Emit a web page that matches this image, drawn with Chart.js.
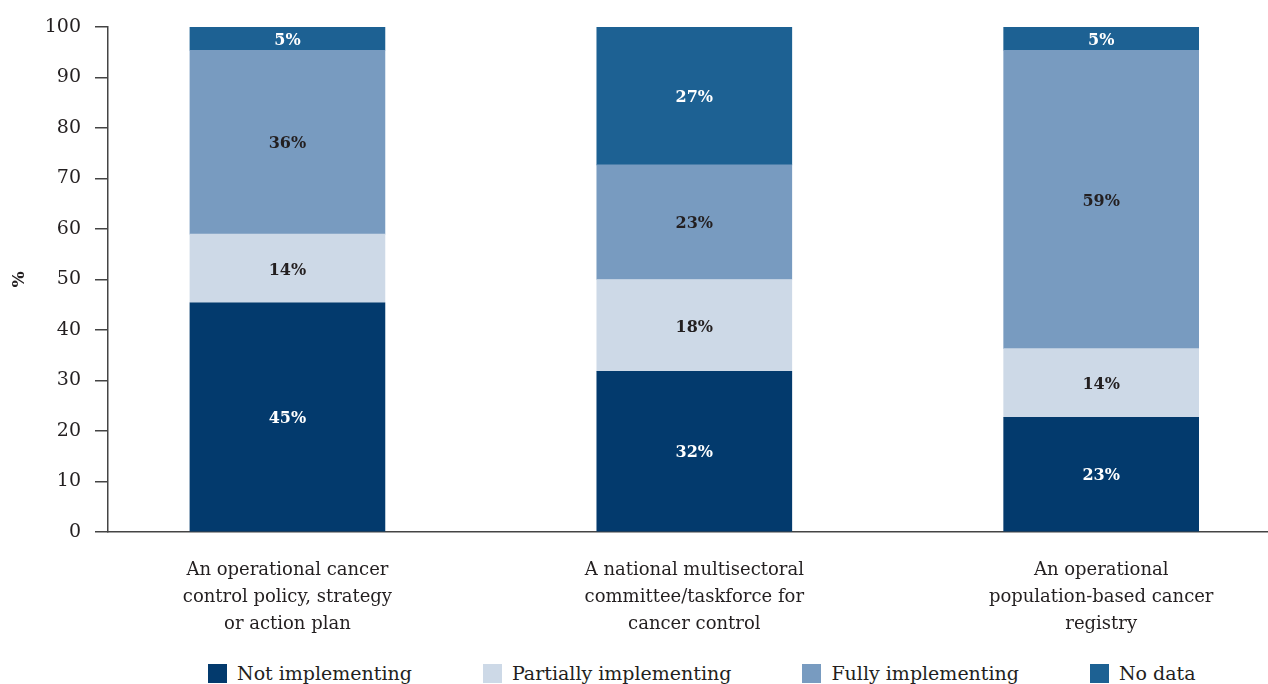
<!DOCTYPE html>
<html>
<head>
<meta charset="utf-8">
<script src="https://cdn.jsdelivr.net/npm/chart.js@4.4.1/dist/chart.umd.min.js"></script>
<style>
  html, body { margin: 0; padding: 0; background: #fff; overflow: hidden; }
  #wrap { position: relative; width: 1268px; height: 684px; }
  #chartBox { position: absolute; left: 0; top: 0; width: 1268px; height: 650px; }
  #legend { position: absolute; left: 208px; top: 662px; display: flex; gap: 71px;
            font-family: "DejaVu Serif", serif; font-size: 19px; color: #231f20; white-space: nowrap; }
  #legend .item { display: flex; align-items: center; }
  #legend .box { width: 19px; height: 19px; margin-right: 10px; }
</style>
</head>
<body>
<div id="wrap">
  <div id="chartBox"><canvas id="barChart"></canvas></div>
  <div id="legend"></div>
</div>
<script>
var categories = [
  ["An operational cancer", "control policy, strategy", "or action plan"],
  ["A national multisectoral", "committee/taskforce for", "cancer control"],
  ["An operational", "population-based cancer", "registry"]
];
var seriesNames = ["Not implementing", "Partially implementing", "Fully implementing", "No data"];
var notImplementing = [45.4, 31.8, 22.7];
var partiallyImplementing = [13.6, 18.2, 13.6];
var fullyImplementing = [36.4, 22.7, 59.1];
var noData = [4.6, 27.3, 4.6];
var yTicks = [0, 10, 20, 30, 40, 50, 60, 70, 80, 90, 100];

var colors = ["#033a6d", "#cdd9e7", "#789bc0", "#1d6193"];
var labelColors = ["#ffffff", "#231f20", "#231f20", "#ffffff"];
var fontFamily = "'DejaVu Serif', serif";

function toPoints(values) {
  return values.map(function (v, i) { return { x: i, y: v }; });
}

var allSeries = [notImplementing, partiallyImplementing, fullyImplementing, noData];
var datasets = allSeries.map(function (values, i) {
  return {
    label: seriesNames[i],
    data: toPoints(values),
    backgroundColor: colors[i],
    borderWidth: 0,
    barThickness: 195
  };
});

// draw the value labels in the middle of each segment
var segmentLabels = {
  id: "segmentLabels",
  afterDatasetsDraw: function (chart) {
    var ctx = chart.ctx;
    ctx.save();
    ctx.font = "bold 16px " + fontFamily;
    ctx.textAlign = "center";
    ctx.textBaseline = "middle";
    chart.data.datasets.forEach(function (ds, i) {
      var meta = chart.getDatasetMeta(i);
      meta.data.forEach(function (bar, j) {
        var v = ds.data[j].y;
        ctx.fillStyle = labelColors[i];
        ctx.fillText(Math.round(v) + "%", bar.x, (bar.y + bar.base) / 2 + 2);
      });
    });
    ctx.restore();
  }
};

var barChart = new Chart(document.getElementById("barChart"), {
  type: "bar",
  data: { datasets: datasets },
  plugins: [segmentLabels],
  options: {
    responsive: true,
    maintainAspectRatio: false,
    animation: false,
    layout: { padding: { top: 27, right: 0, left: 0, bottom: 0 } },
    plugins: {
      legend: { display: false },
      tooltip: { enabled: false }
    },
    scales: {
      x: {
        type: "linear",
        stacked: true,
        offset: false,
        min: -0.441,
        max: 2.41,
        grid: { display: false, drawTicks: false },
        border: { display: true, color: "#444", width: 1.5 },
        afterBuildTicks: function (scale) {
          scale.ticks = categories.map(function (c, i) { return { value: i }; });
        },
        afterFit: function (scale) { scale.height = 118; },
        ticks: {
          padding: 25,
          color: "#231f20",
          font: { family: fontFamily, size: 18, lineHeight: 1.5 },
          maxRotation: 0,
          autoSkip: false,
          callback: function (value) { return categories[value]; }
        }
      },
      y: {
        stacked: true,
        min: 0,
        max: 100,
        afterBuildTicks: function (scale) {
          scale.ticks = yTicks.map(function (t) { return { value: t }; });
        },
        afterFit: function (scale) { scale.width = 108; },
        grid: { drawOnChartArea: false, drawTicks: true, tickLength: 13, color: "#444", lineWidth: 1.5 },
        border: { display: true, color: "#444", width: 1.5 },
        ticks: {
          padding: 14,
          color: "#231f20",
          font: { family: fontFamily, size: 19 }
        },
        title: {
          display: true,
          text: "%",
          color: "#231f20",
          font: { family: fontFamily, size: 17, weight: "bold" },
          padding: { top: 9, bottom: 0 }
        }
      }
    }
  }
});

// legend built from the same series names and colours
var legend = document.getElementById("legend");
seriesNames.forEach(function (name, i) {
  var item = document.createElement("div");
  item.className = "item";
  var box = document.createElement("span");
  box.className = "box";
  box.style.background = colors[i];
  var txt = document.createElement("span");
  txt.textContent = name;
  item.appendChild(box);
  item.appendChild(txt);
  legend.appendChild(item);
});
</script>
</body>
</html>
